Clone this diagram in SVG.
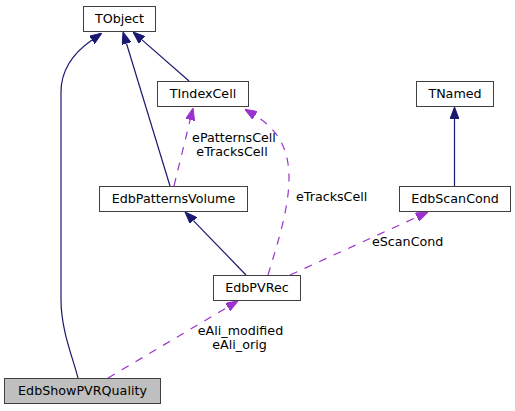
<svg xmlns="http://www.w3.org/2000/svg" width="515" height="411" viewBox="0 0 515 411">
<style>
  .node rect { fill: #ffffff; stroke: #404040; stroke-width: 1; }
  .node.main rect { fill: #bfbfbf; }
  text { font-family: "DejaVu Sans", "Liberation Sans", sans-serif; font-size: 12.7px; fill: #000000; }
  .nt { text-anchor: middle; }
  .inh { fill: none; stroke: #191970; stroke-width: 1.2; }
  .use { fill: none; stroke: #9a32cd; stroke-width: 1.2; stroke-dasharray: 8,8; }
</style>
<defs>
  <marker id="ah-blue" viewBox="0 0 12 9" refX="0" refY="4.5" markerWidth="12" markerHeight="9" markerUnits="userSpaceOnUse" orient="auto">
    <path d="M0,0 L12,4.5 L0,9 z" fill="#191970" stroke="#191970" stroke-width="1"/>
  </marker>
  <marker id="ah-purple" viewBox="0 0 12 9" refX="0" refY="4.5" markerWidth="12" markerHeight="9" markerUnits="userSpaceOnUse" orient="auto">
    <path d="M0,0 L12,4.5 L0,9 z" fill="#9a32cd" stroke="#9a32cd" stroke-width="1"/>
  </marker>
</defs>

<g id="connectors">
  <path class="inh" marker-end="url(#ah-blue)" d="M78,378 C73,358 61,330 61,300 L61,92 C61,67 76,51 92,39.9"/>
  <path class="inh" marker-end="url(#ah-blue)" d="M170,186 L126.5,43.5"/>
  <path class="inh" marker-end="url(#ah-blue)" d="M189,81 L142,39.9"/>
  <path class="inh" marker-end="url(#ah-blue)" d="M454.5,186 L454.5,119"/>
  <path class="inh" marker-end="url(#ah-blue)" d="M246,275 L193.4,220.6"/>
  <path class="use" marker-end="url(#ah-purple)" d="M174,186 L190.2,119.7"/>
  <path class="use" marker-end="url(#ah-purple)" d="M268,275 C276,248 289,210 289,178 C289,150 279,130 255,115.4"/>
  <path class="use" marker-end="url(#ah-purple)" d="M290,275 L417.1,217"/>
  <path class="use" marker-end="url(#ah-purple)" d="M108,378 L227.7,307.1"/>
  <text class="nt" x="234" y="142">ePatternsCell</text>
  <text class="nt" x="232" y="155.5">eTracksCell</text>
  <text x="296" y="201">eTracksCell</text>
  <text x="372" y="246">eScanCond</text>
  <text class="nt" x="240.5" y="335">eAli_modified</text>
  <text class="nt" x="239.5" y="349">eAli_orig</text>
</g>

<g id="TObject" class="node">
  <rect x="83.5" y="6.5" width="72" height="25"/>
  <text class="nt" x="119.5" y="22.7">TObject</text>
</g>
<g id="TIndexCell" class="node">
  <rect x="157.5" y="81.5" width="91" height="25"/>
  <text class="nt" x="203" y="97.7">TIndexCell</text>
</g>
<g id="EdbPatternsVolume" class="node">
  <rect x="99.5" y="186.5" width="148" height="25"/>
  <text class="nt" x="173.5" y="202.7">EdbPatternsVolume</text>
</g>
<g id="TNamed" class="node">
  <rect x="416.5" y="81.5" width="77" height="25"/>
  <text class="nt" x="455" y="97.7">TNamed</text>
</g>
<g id="EdbScanCond" class="node">
  <rect x="399.5" y="186.5" width="111" height="25"/>
  <text class="nt" x="455" y="202.7">EdbScanCond</text>
</g>
<g id="EdbPVRec" class="node">
  <rect x="213.5" y="275.5" width="87" height="25"/>
  <text class="nt" x="257" y="291.7">EdbPVRec</text>
</g>
<g id="EdbShowPVRQuality" class="node main">
  <rect x="4.5" y="378.5" width="156" height="25"/>
  <text class="nt" x="82.5" y="394.7">EdbShowPVRQuality</text>
</g>
</svg>
